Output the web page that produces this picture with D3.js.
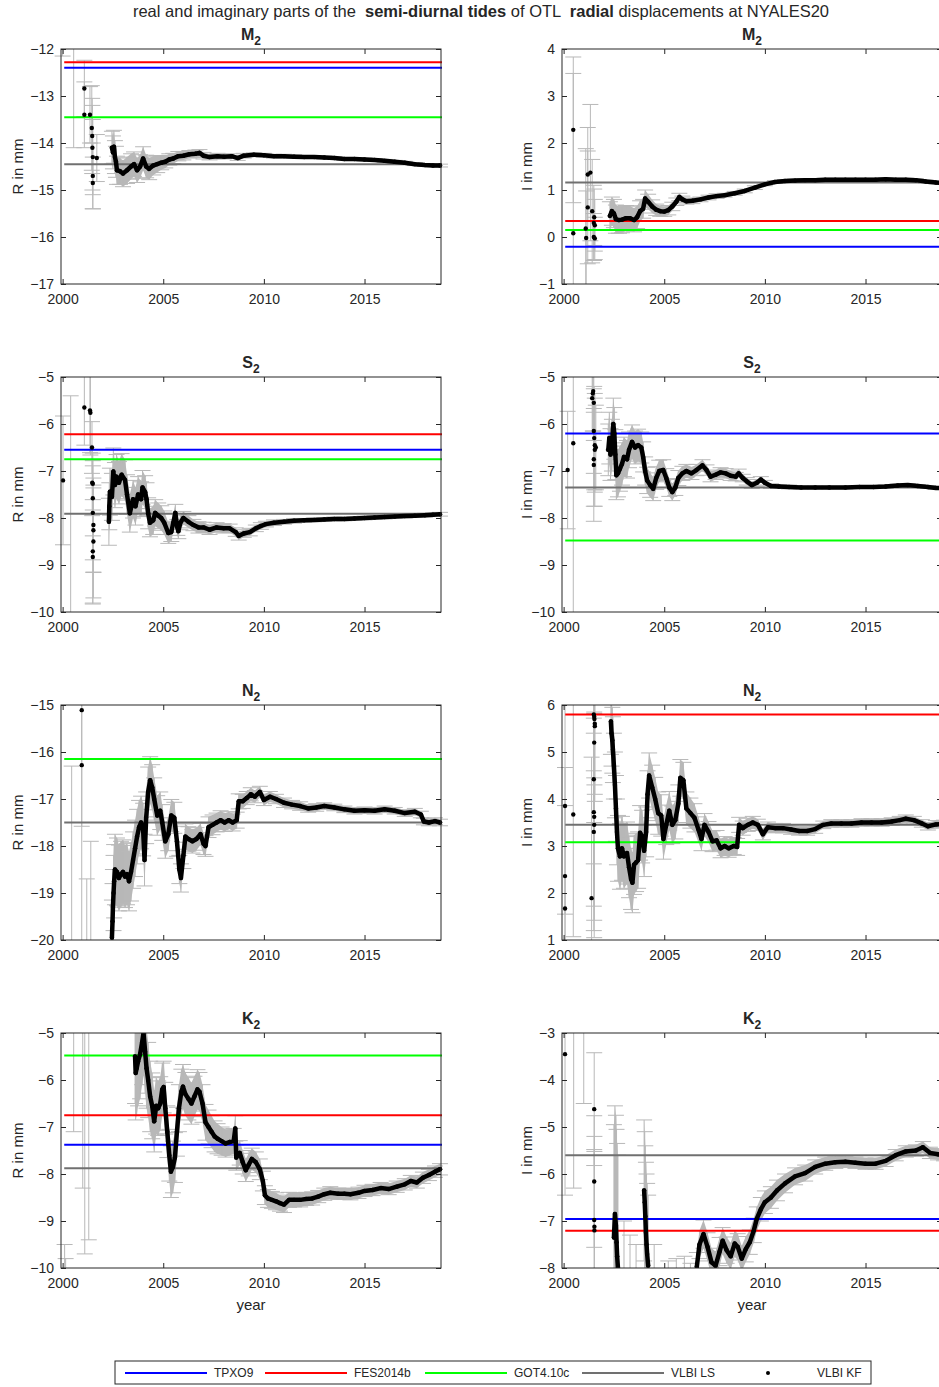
<!DOCTYPE html>
<html>
<head>
<meta charset="utf-8">
<script src="https://cdn.jsdelivr.net/npm/d3@7"></script>
<style>
  body { margin: 0; background: #fff; }
  text { font-family: "Liberation Sans", Arial, Helvetica, sans-serif; fill: #262626; }
</style>
</head>
<body>
<svg id="chart" width="939" height="1387"></svg>
<script>
// ---- data ----
const tideNames = ["M", "S", "N", "K"];
const partLabels = ["R in mm", "I in mm"];
const yearTicks = [2000, 2005, 2010, 2015];
const xLimits = [1999.92, 2018.8];
const lineSpan = [2000.08, 2018.85];
// panel order: M2 real, M2 imag, S2 real, S2 imag, N2 real, N2 imag, K2 real, K2 imag
const yLimits = [[-17, -12], [-1, 4], [-10, -5], [-10, -5], [-20, -15], [1, 6], [-10, -5], [-8, -3]];

const modelNames = ["TPXO9", "FES2014b", "GOT4.10c", "VLBI LS", "VLBI KF"];
const tpxo9    = [-12.40, -0.21, -6.55, -6.20, null, null, -7.38, -6.96];
const fes2014b = [-12.28, 0.34, -6.22, null, null, 5.80, -6.75, -7.21];
const got410c  = [-13.45, 0.15, -6.75, -8.48, -16.15, 3.08, -5.48, null];
const vlbiLS   = [-14.45, 1.16, -7.91, -7.35, -17.50, 3.45, -7.88, -5.60];

// VLBI KF estimates: [epoch, value, 1-sigma]
const m2ReSparse = [[2000.0,-11.0,1.15],[2000.55,-11.9,2.2],[2001.08,-12.84,0.6],[2001.08,-13.40,0.7],[2001.36,-13.40,0.6],[2001.45,-13.68,0.9],[2001.47,-13.85,0.8],[2001.48,-14.1,0.9],[2001.5,-14.3,0.8],[2001.5,-14.7,0.7],[2001.5,-14.85,0.55],[2001.7,-14.32,0.5]];
const m2ReDense = [[2002.45,-14.10,0.35],[2002.5,-14.2,0.35],[2002.55,-14.08,0.35],[2002.6,-14.3,0.35],[2002.65,-14.4,0.33],[2002.7,-14.58,0.3],[2002.85,-14.6,0.28],[2003.0,-14.65,0.28],[2003.2,-14.58,0.28],[2003.4,-14.5,0.27],[2003.55,-14.45,0.26],[2003.7,-14.58,0.26],[2003.85,-14.5,0.25],[2004.0,-14.33,0.25],[2004.15,-14.5,0.24],[2004.3,-14.55,0.23],[2004.5,-14.48,0.2],[2004.7,-14.45,0.18],[2004.9,-14.42,0.15],[2005.1,-14.4,0.13],[2005.3,-14.35,0.12],[2005.5,-14.33,0.11],[2005.75,-14.28,0.1],[2006.0,-14.27,0.09],[2006.3,-14.24,0.08],[2006.6,-14.23,0.08],[2006.8,-14.21,0.07],[2007.0,-14.27,0.07],[2007.3,-14.3,0.06],[2007.7,-14.28,0.06],[2008.0,-14.29,0.05],[2008.4,-14.28,0.05],[2008.7,-14.32,0.05],[2009.0,-14.27,0.05],[2009.5,-14.25,0.04],[2010.0,-14.26,0.04],[2010.5,-14.28,0.04],[2011.0,-14.28,0.04],[2011.5,-14.29,0.04],[2012.0,-14.3,0.03],[2012.5,-14.3,0.03],[2013.0,-14.31,0.03],[2013.5,-14.32,0.03],[2014.0,-14.34,0.03],[2014.5,-14.34,0.03],[2015.0,-14.35,0.03],[2015.5,-14.36,0.03],[2016.0,-14.38,0.03],[2016.5,-14.4,0.03],[2017.0,-14.42,0.03],[2017.5,-14.45,0.03],[2018.0,-14.47,0.03],[2018.4,-14.48,0.03],[2018.75,-14.48,0.03]];

const m2ImSparse = [[2000.48,2.28,1.55],[2000.48,0.08,3.4],[2001.1,0.18,1.7],[2001.12,-0.02,1.0],[2001.2,1.33,1.0],[2001.2,0.63,1.2],[2001.33,1.37,1.45],[2001.42,0.55,1.1],[2001.5,0.3,0.8],[2001.52,0.42,0.6],[2001.55,0.25,0.55],[2001.5,0.0,0.5],[2001.55,-0.03,0.45]];
const m2ImDense = [[2002.3,0.45,0.3],[2002.4,0.55,0.3],[2002.5,0.5,0.3],[2002.6,0.38,0.3],[2002.75,0.36,0.28],[2002.9,0.37,0.28],[2003.1,0.4,0.27],[2003.3,0.4,0.26],[2003.5,0.36,0.25],[2003.65,0.42,0.24],[2003.8,0.55,0.22],[2003.95,0.6,0.2],[2004.05,0.82,0.18],[2004.2,0.75,0.16],[2004.4,0.65,0.14],[2004.6,0.58,0.12],[2004.8,0.55,0.11],[2005.0,0.54,0.1],[2005.2,0.57,0.1],[2005.4,0.65,0.09],[2005.6,0.75,0.08],[2005.75,0.85,0.08],[2005.9,0.8,0.07],[2006.1,0.76,0.06],[2006.4,0.77,0.06],[2006.8,0.8,0.05],[2007.2,0.84,0.05],[2007.6,0.87,0.05],[2008.0,0.89,0.04],[2008.5,0.93,0.04],[2009.0,0.98,0.04],[2009.5,1.05,0.04],[2010.0,1.12,0.03],[2010.5,1.17,0.03],[2011.0,1.19,0.03],[2011.5,1.2,0.03],[2012.0,1.21,0.03],[2012.5,1.21,0.03],[2013.0,1.22,0.03],[2013.5,1.22,0.03],[2014.0,1.22,0.03],[2014.5,1.22,0.03],[2015.0,1.22,0.03],[2015.5,1.22,0.03],[2016.0,1.23,0.03],[2016.5,1.22,0.03],[2017.0,1.22,0.03],[2017.5,1.21,0.03],[2018.0,1.18,0.03],[2018.5,1.16,0.03],[2018.9,1.15,0.03]];

const s2ReSparse = [[2000.02,-7.2,1.37],[2000.4,-11.0,5.6],[2001.08,-5.65,0.8],[2001.36,-5.71,0.9],[2001.38,-5.76,0.9],[2001.46,-6.5,0.55],[2001.47,-7.25,0.7],[2001.5,-7.27,0.65],[2001.5,-7.58,0.8],[2001.5,-7.89,1.0],[2001.53,-8.15,1.0],[2001.53,-8.26,0.9],[2001.53,-8.5,1.2],[2001.5,-8.71,1.1],[2001.5,-8.83,1.0]];
const s2ReDense = [[2002.3,-8.08,0.5],[2002.32,-7.75,0.5],[2002.35,-7.44,0.5],[2002.45,-7.55,0.5],[2002.52,-7.01,0.5],[2002.6,-7.3,0.48],[2002.68,-7.12,0.47],[2002.8,-7.25,0.45],[2002.93,-7.08,0.45],[2003.1,-7.19,0.43],[2003.2,-7.5,0.42],[2003.34,-7.9,0.4],[2003.5,-7.6,0.4],[2003.62,-7.75,0.4],[2003.75,-7.5,0.38],[2003.9,-7.6,0.37],[2003.97,-7.35,0.36],[2004.1,-7.45,0.35],[2004.17,-7.6,0.35],[2004.25,-7.9,0.33],[2004.34,-8.1,0.3],[2004.5,-8.05,0.3],[2004.6,-7.89,0.28],[2004.75,-7.95,0.27],[2004.9,-8.0,0.26],[2005.05,-8.1,0.25],[2005.25,-8.32,0.22],[2005.4,-8.3,0.2],[2005.5,-8.1,0.2],[2005.6,-7.89,0.18],[2005.7,-8.2,0.17],[2005.75,-8.28,0.16],[2005.85,-8.1,0.15],[2006.0,-8.0,0.14],[2006.25,-8.08,0.13],[2006.5,-8.15,0.12],[2006.75,-8.2,0.12],[2007.0,-8.2,0.11],[2007.3,-8.25,0.1],[2007.65,-8.2,0.1],[2008.0,-8.22,0.1],[2008.3,-8.22,0.09],[2008.6,-8.3,0.09],[2008.75,-8.38,0.09],[2009.0,-8.33,0.08],[2009.3,-8.3,0.08],[2009.6,-8.22,0.07],[2009.85,-8.17,0.07],[2010.1,-8.13,0.06],[2010.5,-8.1,0.06],[2011.0,-8.08,0.05],[2011.5,-8.06,0.05],[2012.0,-8.05,0.04],[2012.5,-8.04,0.04],[2013.0,-8.03,0.04],[2013.5,-8.02,0.04],[2014.0,-8.02,0.04],[2014.5,-8.01,0.04],[2015.0,-8.0,0.04],[2015.5,-7.99,0.04],[2016.0,-7.98,0.04],[2016.5,-7.97,0.04],[2017.0,-7.96,0.04],[2017.5,-7.95,0.04],[2018.0,-7.94,0.04],[2018.4,-7.93,0.04],[2018.75,-7.92,0.04]];

const s2ImSparse = [[2000.2,-6.98,1.25],[2000.48,-6.41,4.0],[2001.42,-5.45,0.75],[2001.45,-5.35,0.8],[2001.47,-5.3,0.85],[2001.5,-5.55,0.8],[2001.5,-6.15,0.9],[2001.52,-6.3,1.1],[2001.55,-6.45,1.0],[2001.55,-6.55,1.2],[2001.6,-6.5,0.9],[2001.5,-6.75,1.0],[2001.5,-6.87,1.2]];
const s2ImDense = [[2002.22,-6.55,0.55],[2002.27,-6.3,0.55],[2002.33,-6.65,0.55],[2002.4,-6.45,0.55],[2002.47,-6.0,0.55],[2002.52,-6.2,0.55],[2002.57,-6.65,0.53],[2002.62,-7.09,0.52],[2002.7,-7.05,0.5],[2002.8,-6.95,0.48],[2002.9,-6.85,0.45],[2003.0,-6.7,0.42],[2003.15,-6.75,0.4],[2003.25,-6.55,0.38],[2003.4,-6.38,0.36],[2003.55,-6.5,0.35],[2003.7,-6.45,0.34],[2003.86,-6.5,0.33],[2003.95,-6.7,0.32],[2004.05,-7.0,0.3],[2004.15,-7.2,0.28],[2004.3,-7.3,0.26],[2004.45,-7.38,0.25],[2004.6,-7.15,0.24],[2004.75,-7.0,0.23],[2004.95,-6.98,0.22],[2005.1,-7.15,0.2],[2005.25,-7.35,0.19],[2005.4,-7.45,0.18],[2005.55,-7.35,0.17],[2005.7,-7.15,0.16],[2005.9,-7.05,0.15],[2006.1,-7.0,0.14],[2006.35,-7.05,0.13],[2006.6,-6.98,0.12],[2006.9,-6.88,0.12],[2007.1,-6.98,0.11],[2007.3,-7.12,0.11],[2007.55,-7.08,0.1],[2007.8,-7.03,0.1],[2008.05,-7.05,0.1],[2008.3,-7.1,0.1],[2008.55,-7.12,0.09],[2008.7,-7.05,0.09],[2008.9,-7.15,0.08],[2009.1,-7.22,0.08],[2009.35,-7.3,0.07],[2009.6,-7.25,0.07],[2009.8,-7.18,0.06],[2010.0,-7.25,0.05],[2010.3,-7.32,0.05],[2010.7,-7.33,0.04],[2011.2,-7.34,0.04],[2011.8,-7.35,0.03],[2012.5,-7.35,0.03],[2013.2,-7.35,0.03],[2014.0,-7.35,0.03],[2014.7,-7.34,0.03],[2015.4,-7.34,0.03],[2016.0,-7.33,0.03],[2016.6,-7.31,0.03],[2017.1,-7.3,0.03],[2017.6,-7.32,0.03],[2018.1,-7.34,0.03],[2018.5,-7.36,0.03],[2018.9,-7.36,0.03]];

const n2ReSparse = [[2000.45,-21.5,5.2],[2000.95,-15.11,5.5],[2000.95,-16.28,1.3],[2001.2,-21.2,2.5],[2001.4,-22.0,4.1]];
const n2ReDense = [[2002.45,-19.95,0.8],[2002.48,-19.6,0.8],[2002.5,-19.3,0.8],[2002.53,-19.0,0.8],[2002.56,-18.75,0.78],[2002.6,-18.5,0.75],[2002.7,-18.55,0.72],[2002.8,-18.68,0.7],[2002.9,-18.6,0.7],[2003.0,-18.55,0.68],[2003.1,-18.65,0.66],[2003.2,-18.6,0.65],[2003.3,-18.75,0.63],[2003.4,-18.55,0.62],[2003.5,-18.3,0.6],[2003.6,-18.05,0.6],[2003.7,-17.8,0.58],[2003.8,-17.6,0.57],[2003.9,-17.5,0.56],[2004.0,-17.65,0.56],[2004.07,-18.3,0.55],[2004.15,-17.4,0.55],[2004.25,-16.85,0.53],[2004.35,-16.6,0.5],[2004.45,-16.75,0.48],[2004.55,-17.0,0.45],[2004.7,-17.35,0.42],[2004.85,-17.25,0.4],[2004.95,-17.5,0.38],[2005.1,-17.9,0.36],[2005.25,-17.75,0.35],[2005.4,-17.35,0.34],[2005.55,-17.4,0.33],[2005.68,-17.9,0.32],[2005.8,-18.5,0.3],[2005.88,-18.68,0.3],[2006.0,-18.2,0.28],[2006.1,-17.8,0.27],[2006.25,-17.85,0.26],[2006.45,-17.9,0.25],[2006.65,-17.85,0.24],[2006.85,-17.75,0.23],[2007.0,-17.95,0.23],[2007.1,-18.0,0.22],[2007.25,-17.6,0.22],[2007.45,-17.55,0.21],[2007.65,-17.5,0.2],[2007.85,-17.45,0.2],[2008.05,-17.5,0.19],[2008.25,-17.45,0.18],[2008.45,-17.5,0.18],[2008.65,-17.45,0.17],[2008.75,-17.05,0.16],[2008.95,-17.05,0.15],[2009.15,-16.98,0.14],[2009.35,-16.9,0.14],[2009.55,-16.95,0.13],[2009.8,-16.85,0.12],[2010.0,-17.02,0.12],[2010.3,-16.95,0.11],[2010.6,-17.0,0.1],[2011.0,-17.08,0.1],[2011.4,-17.12,0.09],[2011.8,-17.15,0.09],[2012.2,-17.2,0.08],[2012.6,-17.18,0.08],[2013.0,-17.15,0.07],[2013.5,-17.18,0.07],[2014.0,-17.22,0.07],[2014.5,-17.25,0.07],[2015.0,-17.24,0.07],[2015.5,-17.25,0.07],[2016.0,-17.22,0.07],[2016.5,-17.25,0.07],[2017.0,-17.3,0.07],[2017.5,-17.27,0.07],[2017.8,-17.33,0.07],[2017.95,-17.48,0.07],[2018.2,-17.5,0.07],[2018.5,-17.47,0.07],[2018.75,-17.5,0.07]];

const n2ImSparse = [[2000.07,3.85,2.3],[2000.07,2.36,1.5],[2000.07,1.67,3.0],[2000.48,3.67,2.6],[2001.39,1.89,3.0],[2001.5,5.8,1.2],[2001.52,5.75,1.3],[2001.53,5.7,1.4],[2001.55,5.6,1.5],[2001.55,5.55,1.6],[2001.52,5.2,1.7],[2001.5,4.42,1.8],[2001.5,3.72,2.0],[2001.52,3.62,2.2],[2001.52,3.45,2.4],[2001.5,3.3,2.1]];
const n2ImDense = [[2002.35,5.65,0.7],[2002.38,5.4,0.7],[2002.42,5.25,0.7],[2002.45,5.05,0.7],[2002.5,4.7,0.7],[2002.55,4.3,0.7],[2002.6,3.8,0.7],[2002.65,3.3,0.7],[2002.7,2.95,0.7],[2002.8,2.78,0.7],[2002.9,2.95,0.68],[2003.0,2.78,0.68],[2003.15,2.85,0.66],[2003.25,2.55,0.65],[2003.35,2.3,0.65],[2003.42,2.22,0.64],[2003.5,2.6,0.63],[2003.6,2.65,0.62],[2003.7,2.7,0.6],[2003.8,3.28,0.58],[2003.9,3.2,0.56],[2004.0,2.9,0.55],[2004.1,3.3,0.53],[2004.17,4.1,0.5],[2004.25,4.5,0.48],[2004.4,4.25,0.47],[2004.55,4.0,0.46],[2004.7,3.7,0.45],[2004.85,3.65,0.44],[2004.96,3.15,0.43],[2005.1,3.45,0.42],[2005.25,3.75,0.41],[2005.4,3.45,0.4],[2005.55,3.55,0.4],[2005.7,3.9,0.4],[2005.8,4.45,0.39],[2005.95,4.4,0.38],[2006.1,3.8,0.35],[2006.3,3.7,0.32],[2006.5,3.6,0.3],[2006.7,3.35,0.27],[2006.85,3.15,0.25],[2007.0,3.45,0.24],[2007.2,3.3,0.22],[2007.4,3.1,0.22],[2007.6,3.12,0.21],[2007.8,2.95,0.2],[2008.0,3.0,0.2],[2008.2,2.95,0.19],[2008.45,3.0,0.18],[2008.62,2.98,0.18],[2008.72,3.45,0.16],[2008.9,3.38,0.15],[2009.15,3.45,0.14],[2009.4,3.5,0.13],[2009.65,3.45,0.12],[2009.9,3.25,0.12],[2010.15,3.4,0.11],[2010.5,3.38,0.1],[2010.9,3.38,0.1],[2011.3,3.35,0.1],[2011.7,3.32,0.09],[2012.1,3.32,0.09],[2012.5,3.36,0.09],[2012.9,3.45,0.08],[2013.3,3.48,0.08],[2013.8,3.48,0.08],[2014.3,3.48,0.08],[2014.8,3.5,0.08],[2015.3,3.5,0.08],[2015.8,3.5,0.08],[2016.3,3.52,0.08],[2016.7,3.55,0.08],[2017.0,3.58,0.08],[2017.4,3.55,0.08],[2017.8,3.48,0.08],[2018.1,3.42,0.08],[2018.5,3.46,0.08],[2018.9,3.47,0.08]];

const k2ReSparse = [[2000.1,-11.5,2.0],[2000.15,-11.0,1.2],[2000.55,-4.0,3.1],[2001.0,-2.5,5.8],[2001.1,-3.0,6.7],[2001.3,-1.5,7.9]];
const k2ReDense = [[2003.6,-5.5,1.0],[2003.63,-5.85,1.0],[2003.68,-5.75,1.0],[2003.75,-5.6,0.95],[2003.85,-5.45,0.95],[2003.95,-5.2,0.9],[2004.02,-5.0,0.9],[2004.1,-5.4,0.88],[2004.17,-5.75,0.85],[2004.25,-6.0,0.8],[2004.35,-6.35,0.75],[2004.45,-6.55,0.7],[2004.55,-6.88,0.65],[2004.65,-6.55,0.6],[2004.75,-6.6,0.58],[2004.85,-6.5,0.57],[2004.95,-6.2,0.56],[2005.02,-6.15,0.55],[2005.1,-6.6,0.55],[2005.2,-7.1,0.55],[2005.3,-7.6,0.55],[2005.38,-7.95,0.55],[2005.48,-7.85,0.55],[2005.58,-7.65,0.53],[2005.68,-7.1,0.52],[2005.78,-6.6,0.5],[2005.9,-6.25,0.48],[2005.98,-6.14,0.47],[2006.1,-6.3,0.46],[2006.25,-6.4,0.45],[2006.4,-6.5,0.44],[2006.55,-6.35,0.43],[2006.7,-6.2,0.42],[2006.8,-6.25,0.41],[2006.95,-6.5,0.4],[2007.1,-6.9,0.38],[2007.25,-7.0,0.36],[2007.4,-7.1,0.34],[2007.55,-7.2,0.33],[2007.7,-7.25,0.32],[2007.9,-7.3,0.3],[2008.1,-7.35,0.29],[2008.3,-7.32,0.28],[2008.5,-7.3,0.27],[2008.58,-7.03,0.27],[2008.63,-7.65,0.27],[2008.8,-7.55,0.26],[2008.95,-7.75,0.25],[2009.1,-7.92,0.24],[2009.25,-7.8,0.24],[2009.4,-7.68,0.23],[2009.6,-7.75,0.22],[2009.8,-7.9,0.22],[2009.95,-8.15,0.21],[2010.05,-8.45,0.2],[2010.2,-8.52,0.19],[2010.4,-8.55,0.18],[2010.6,-8.58,0.18],[2010.8,-8.62,0.17],[2011.0,-8.65,0.17],[2011.25,-8.55,0.16],[2011.5,-8.55,0.15],[2011.8,-8.55,0.15],[2012.1,-8.53,0.14],[2012.4,-8.52,0.14],[2012.7,-8.48,0.13],[2013.0,-8.43,0.13],[2013.3,-8.4,0.13],[2013.7,-8.42,0.12],[2014.0,-8.42,0.12],[2014.3,-8.43,0.12],[2014.7,-8.4,0.12],[2015.0,-8.36,0.12],[2015.4,-8.34,0.12],[2015.8,-8.3,0.12],[2016.2,-8.32,0.12],[2016.6,-8.27,0.12],[2017.0,-8.22,0.12],[2017.3,-8.15,0.12],[2017.6,-8.18,0.12],[2017.9,-8.08,0.12],[2018.2,-8.02,0.12],[2018.5,-7.95,0.12],[2018.75,-7.9,0.12]];

const k2ImSparse = [[2000.07,-3.45,3.0],[2000.5,-2.3,4.0],[2001.0,-1.0,3.5],[2001.52,-4.62,1.2],[2001.52,-6.16,1.4],[2001.52,-6.98,1.5],[2001.53,-7.12,1.6],[2001.53,-7.2,2.0],[2003.0,-8.8,1.8],[2003.3,-9.2,1.9],[2003.6,-9.0,1.5],[2004.5,-8.6,1.1],[2005.2,-8.6,0.75],[2005.6,-8.5,0.7],[2006.0,-8.5,0.75],[2006.3,-8.6,0.7]];
const k2ImDense = [[2002.5,-7.35,2.4],[2002.55,-6.85,2.3],[2002.6,-7.1,2.35],[2002.63,-7.45,2.4],[2002.66,-7.75,2.4],[2002.7,-8.0,2.4],[2004.0,-6.35,1.5],[2004.03,-6.6,1.5],[2004.06,-6.9,1.5],[2004.09,-7.25,1.5],[2004.12,-7.5,1.5],[2004.15,-7.7,1.5],[2004.2,-7.95,1.5],[2006.62,-7.97,0.3],[2006.75,-7.5,0.3],[2006.95,-7.28,0.3],[2007.15,-7.55,0.3],[2007.35,-7.88,0.3],[2007.55,-7.95,0.3],[2007.75,-7.65,0.3],[2007.9,-7.42,0.28],[2008.1,-7.62,0.28],[2008.3,-7.75,0.28],[2008.5,-7.48,0.28],[2008.65,-7.55,0.28],[2008.85,-7.8,0.27],[2009.05,-7.6,0.27],[2009.25,-7.45,0.26],[2009.45,-7.2,0.26],[2009.6,-6.95,0.25],[2009.8,-6.75,0.25],[2010.0,-6.6,0.24],[2010.3,-6.5,0.23],[2010.6,-6.35,0.22],[2011.0,-6.2,0.2],[2011.5,-6.05,0.18],[2012.0,-5.98,0.17],[2012.5,-5.85,0.15],[2013.0,-5.78,0.14],[2013.5,-5.75,0.13],[2014.0,-5.74,0.12],[2014.5,-5.76,0.12],[2015.0,-5.78,0.12],[2015.5,-5.78,0.12],[2016.0,-5.72,0.12],[2016.5,-5.6,0.12],[2017.0,-5.52,0.12],[2017.5,-5.5,0.12],[2017.85,-5.43,0.12],[2018.2,-5.55,0.12],[2018.6,-5.58,0.12],[2018.9,-5.6,0.12]];

const kfSparse = [m2ReSparse, m2ImSparse, s2ReSparse, s2ImSparse, n2ReSparse, n2ImSparse, k2ReSparse, k2ImSparse];
const kfDense = [m2ReDense, m2ImDense, s2ReDense, s2ImDense, n2ReDense, n2ImDense, k2ReDense, k2ImDense];

// ---- layout ----
const W = 380, H = 235, capHalf = 8;
const colX = [61, 562], rowY = [49, 377, 705, 1033];
const modelColors = ["#0000ff", "#ff0000", "#00ff00", "#707070"];
const modelValues = [tpxo9, fes2014b, got410c, vlbiLS];
const barColor = "#b8b8b8";
const axisColor = "#262626";

const svg = d3.select("#chart");
const defs = svg.append("defs");
const x = d3.scaleLinear().domain(xLimits).range([0, W]);

// split a series where the epochs jump by more than a year
function segments(pts) {
  const out = [];
  let cur = [];
  pts.forEach((p, i) => {
    if (i > 0 && p[0] - pts[i - 1][0] > 1.0) { out.push(cur); cur = []; }
    cur.push(p);
  });
  if (cur.length) out.push(cur);
  return out;
}

function styleAxis(sel) {
  sel.attr("font-family", null).attr("font-size", null);
  sel.select(".domain").remove();
  sel.selectAll(".tick line").attr("stroke", axisColor);
  sel.selectAll(".tick text").style("font-size", "14px").attr("fill", axisColor);
}

for (let i = 0; i < 8; i++) {
  const row = Math.floor(i / 2), col = i % 2;
  const g = svg.append("g").attr("transform", `translate(${colX[col]},${rowY[row]})`);
  const y = d3.scaleLinear().domain(yLimits[i]).range([H, 0]);

  defs.append("clipPath").attr("id", "clip" + i)
    .append("rect").attr("x", -10).attr("y", 0).attr("width", W + 20).attr("height", H);
  const plot = g.append("g").attr("clip-path", `url(#clip${i})`);

  const allPts = kfSparse[i].concat(kfDense[i]);
  const segs = segments(kfDense[i]);

  // gray uncertainty band under the dense part
  const band = d3.area().x(d => x(d[0])).y0(d => y(d[1] - d[2])).y1(d => y(d[1] + d[2]));
  plot.selectAll(".band").data(segs).join("path")
    .attr("class", "band").attr("d", band).attr("fill", barColor);

  // error bars with caps
  plot.selectAll(".ebar").data(allPts).join("path")
    .attr("class", "ebar")
    .attr("d", d => {
      const cx = x(d[0]), lo = y(d[1] - d[2]), hi = y(d[1] + d[2]);
      return `M${cx},${lo}V${hi}M${cx - capHalf},${lo}h${2 * capHalf}M${cx - capHalf},${hi}h${2 * capHalf}`;
    })
    .attr("fill", "none").attr("stroke", barColor).attr("stroke-width", 1);

  // model lines
  modelValues.forEach((vals, k) => {
    if (vals[i] === null) return;
    plot.append("line")
      .attr("x1", x(lineSpan[0])).attr("x2", x(lineSpan[1]))
      .attr("y1", y(vals[i])).attr("y2", y(vals[i]))
      .attr("stroke", modelColors[k]).attr("stroke-width", 2);
  });

  // KF estimates
  const line = d3.line().x(d => x(d[0])).y(d => y(d[1]));
  plot.selectAll(".kfline").data(segs).join("path")
    .attr("class", "kfline").attr("d", line)
    .attr("fill", "none").attr("stroke", "#000").attr("stroke-width", 4.5)
    .attr("stroke-linejoin", "round").attr("stroke-linecap", "round");
  plot.selectAll(".kfdot").data(allPts).join("circle")
    .attr("class", "kfdot")
    .attr("cx", d => x(d[0])).attr("cy", d => y(d[1])).attr("r", 2.2).attr("fill", "#000");

  // axes (ticks inside, on all four sides)
  const yTicks = d3.range(yLimits[i][0], yLimits[i][1] + 1);
  g.append("g").attr("transform", `translate(0,${H})`)
    .call(d3.axisBottom(x).tickValues(yearTicks).tickFormat(d3.format("d"))
      .tickSize(-5).tickSizeOuter(0).tickPadding(10))
    .call(styleAxis);
  g.append("g")
    .call(d3.axisTop(x).tickValues(yearTicks).tickFormat("").tickSize(-5).tickSizeOuter(0))
    .call(styleAxis);
  g.append("g")
    .call(d3.axisLeft(y).tickValues(yTicks).tickFormat(d3.format("d"))
      .tickSize(-5).tickSizeOuter(0).tickPadding(7))
    .call(styleAxis);
  g.append("g").attr("transform", `translate(${W},0)`)
    .call(d3.axisRight(y).tickValues(yTicks).tickFormat("").tickSize(-5).tickSizeOuter(0))
    .call(styleAxis);
  g.append("rect").attr("width", W).attr("height", H)
    .attr("fill", "none").attr("stroke", axisColor).attr("stroke-width", 1);

  // panel title (tide name with subscript 2)
  const t = g.append("text").attr("x", W / 2).attr("y", -9)
    .attr("text-anchor", "middle").style("font-size", "16px").style("font-weight", "bold");
  t.append("tspan").text(tideNames[row]);
  t.append("tspan").attr("dy", 5).style("font-size", "12px").text("2");

  // y label
  g.append("text")
    .attr("transform", `translate(${col === 0 ? -38 : -30},${H / 2}) rotate(-90)`)
    .attr("text-anchor", "middle").style("font-size", "15px")
    .text(partLabels[col]);

  if (row === 3) {
    g.append("text").attr("x", W / 2).attr("y", H + 42)
      .attr("text-anchor", "middle").style("font-size", "15px").text("year");
  }
}

// figure title
const title = svg.append("text").attr("x", 481).attr("y", 17)
  .attr("text-anchor", "middle").style("font-size", "16.5px").style("white-space", "pre");
title.append("tspan").text("real and imaginary parts of the  ");
title.append("tspan").style("font-weight", "bold").text("semi-diurnal tides");
title.append("tspan").text(" of OTL  ");
title.append("tspan").style("font-weight", "bold").text("radial");
title.append("tspan").text(" displacements at NYALES20");

// legend
const legend = svg.append("g");
legend.append("rect").attr("x", 115).attr("y", 1361).attr("width", 756).attr("height", 23)
  .attr("fill", "#fff").attr("stroke", axisColor).attr("stroke-width", 1);
const legendX = [125, 265, 425, 582, 745];
modelNames.forEach((name, k) => {
  const lx = legendX[k];
  if (k < 4) {
    legend.append("line").attr("x1", lx).attr("x2", lx + 82).attr("y1", 1373).attr("y2", 1373)
      .attr("stroke", modelColors[k]).attr("stroke-width", 2);
  } else {
    legend.append("circle").attr("cx", lx + 23).attr("cy", 1373).attr("r", 2).attr("fill", "#000");
  }
  legend.append("text").attr("x", k < 4 ? lx + 89 : lx + 72).attr("y", 1377)
    .style("font-size", "12px").text(name);
});
</script>
</body>
</html>
